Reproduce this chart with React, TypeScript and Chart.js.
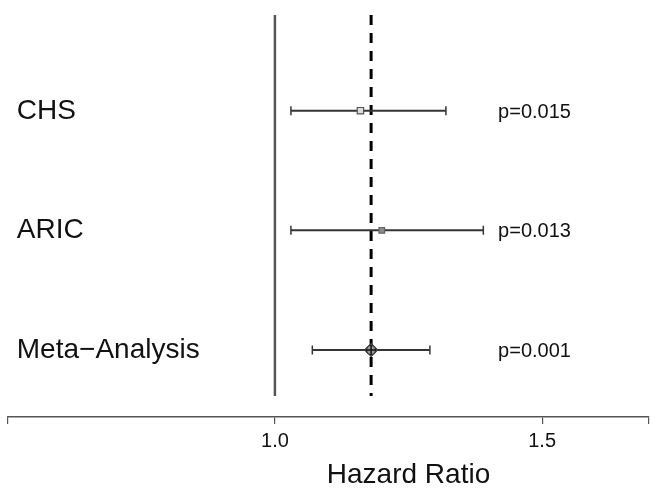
import React, { useEffect, useRef } from 'react';
import { Chart, registerables } from 'chart.js';

Chart.register(...registerables);

// ---- data ----
const studies = ['CHS', 'ARIC', 'Meta\u2212Analysis'];
const rowPositions = [3, 2, 1];
const hazardRatios = [1.16, 1.2, 1.18];
const lowerCI = [1.03, 1.03, 1.07];
const upperCI = [1.32, 1.39, 1.29];
const pValues = ['p=0.015', 'p=0.013', 'p=0.001'];
const xTickValues = [0.5, 1.0, 1.5, 1.7];
const xTickLabels = ['', '1.0', '1.5', ''];
const nullEffect = 1.0;
const pooledEffect = 1.18;
const axisTitle = 'Hazard Ratio';

// ---- layout (in data units) ----
const X_MIN = 0.5;
const X_MAX = 1.7;
const Y_MIN = 0.44;
const Y_MAX = 3.85;
const REF_BOTTOM = 0.615;
const REF_TOP = 3.8;
const LABEL_X = 0.517;
const P_X = 1.4176;
const TITLE_X = 1.25;

const FONT = '"Liberation Sans", Arial, Helvetica, sans-serif';

const markerStyles = ['rect', 'rect', 'rectRot'];
const markerRadii = [4.5, 4, 6.5];
const markerFills = ['#dcdcdc', '#8a8a8a', '#b5b5b5'];
const markerBorders = ['#555555', '#666666', '#333333'];

const textPlugin = {
  id: 'forestText',
  afterDraw(chart: any) {
    const { ctx, scales } = chart;
    const x = scales.x;
    const y = scales.y;
    ctx.save();
    ctx.fillStyle = '#111111';
    ctx.textBaseline = 'alphabetic';
    studies.forEach((s, i) => {
      const py = y.getPixelForValue(rowPositions[i]);
      ctx.textAlign = 'left';
      ctx.font = `28px ${FONT}`;
      ctx.fillText(s, x.getPixelForValue(LABEL_X), py + 8);
      ctx.font = `20px ${FONT}`;
      ctx.fillText(pValues[i], x.getPixelForValue(P_X), py + 7);
    });
    ctx.textAlign = 'center';
    ctx.font = `28px ${FONT}`;
    ctx.fillText(axisTitle, x.getPixelForValue(TITLE_X), chart.height - 9);
    ctx.restore();
  },
};

export default function App() {
  const canvasRef = useRef<HTMLCanvasElement | null>(null);

  useEffect(() => {
    if (!canvasRef.current) return;

    const ciDatasets = studies.map((s, i) => ({
      label: s + ' CI',
      data: [
        { x: lowerCI[i], y: rowPositions[i] },
        { x: upperCI[i], y: rowPositions[i] },
      ],
      showLine: true,
      borderColor: '#353535',
      borderWidth: 2,
      pointStyle: 'line',
      pointRotation: 90,
      pointRadius: 4.5,
      pointBorderWidth: 1.5,
      pointBorderColor: '#353535',
      order: 2,
    }));

    const chart = new Chart(canvasRef.current, {
      type: 'scatter',
      data: {
        datasets: [
          {
            label: 'Meta cross',
            data: [{ x: hazardRatios[2], y: rowPositions[2] }],
            pointStyle: 'cross',
            pointRadius: 5,
            pointBorderWidth: 1.5,
            pointBorderColor: '#111111',
            order: 0,
          },
          {
            label: 'Meta circle',
            data: [{ x: hazardRatios[2], y: rowPositions[2] }],
            pointStyle: 'circle',
            pointRadius: 4.5,
            pointBorderWidth: 1.2,
            pointBorderColor: '#333333',
            pointBackgroundColor: '#999999',
            order: 0,
          },
          {
            label: 'Estimates',
            data: studies.map((s, i) => ({ x: hazardRatios[i], y: rowPositions[i] })),
            pointStyle: markerStyles as any,
            pointRadius: markerRadii,
            pointBackgroundColor: markerFills,
            pointBorderColor: markerBorders,
            pointBorderWidth: 1.2,
            showLine: false,
            order: 1,
          },
          ...ciDatasets,
          {
            label: 'Pooled',
            data: [
              { x: pooledEffect, y: REF_TOP },
              { x: pooledEffect, y: REF_BOTTOM },
            ],
            showLine: true,
            borderColor: '#000000',
            borderWidth: 3,
            borderDash: [10, 8],
            pointRadius: 0,
            order: 3,
          },
          {
            label: 'Null',
            data: [
              { x: nullEffect, y: REF_TOP },
              { x: nullEffect, y: REF_BOTTOM },
            ],
            showLine: true,
            borderColor: '#555555',
            borderWidth: 2.5,
            pointRadius: 0,
            order: 3,
          },
        ] as any,
      },
      options: {
        animation: false,
        responsive: true,
        maintainAspectRatio: false,
        layout: { padding: { left: 7, right: 14, top: 9, bottom: 0 } },
        plugins: {
          legend: { display: false },
          tooltip: { enabled: false },
        },
        scales: {
          x: {
            type: 'linear',
            position: 'bottom',
            min: X_MIN,
            max: X_MAX,
            afterBuildTicks: (s: any) => {
              s.ticks = xTickValues.map((v) => ({ value: v }));
            },
            afterFit: (s: any) => {
              s.height = 75;
            },
            ticks: {
              autoSkip: false,
              maxRotation: 0,
              padding: 5,
              color: '#111111',
              font: { size: 20, family: FONT },
              callback: (v: any) => {
                const idx = xTickValues.indexOf(Number(v));
                return idx >= 0 ? xTickLabels[idx] : '';
              },
            },
            grid: {
              drawOnChartArea: false,
              drawTicks: true,
              tickLength: 7,
              color: '#555555',
              lineWidth: 1.2,
            },
            border: { display: true, color: '#555555', width: 1.5 },
          },
          y: {
            type: 'linear',
            display: false,
            min: Y_MIN,
            max: Y_MAX,
          },
        },
      } as any,
      plugins: [textPlugin],
    });

    return () => chart.destroy();
  }, []);

  return (
    <div style={{ position: 'fixed', left: 0, top: 0, width: 663, height: 492, background: '#ffffff' }}>
      <canvas ref={canvasRef} />
    </div>
  );
}
